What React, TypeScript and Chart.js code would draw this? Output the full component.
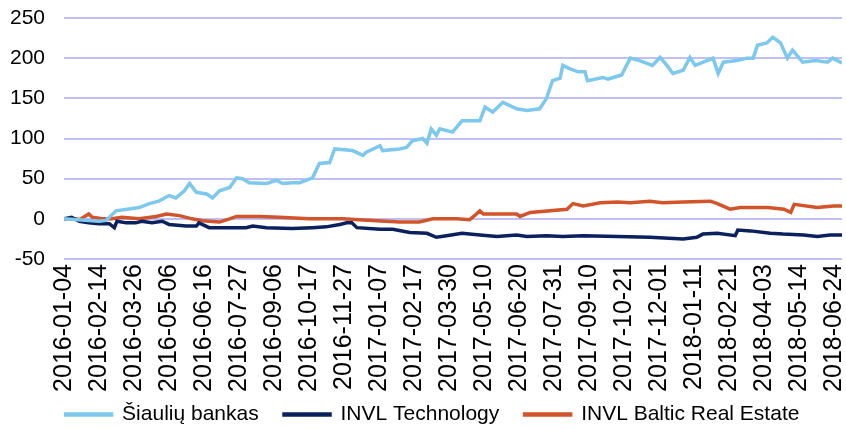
import { useEffect, useRef } from "react";
import { Chart, registerables } from "chart.js";

Chart.register(...registerables);

// x values are days since 2016-01-04
const startDate = Date.UTC(2016, 0, 4);
const tickStepDays = 41;
const lastDay = 911;

const sbDays = [0,41,49,61,88,100,111,123,131,141,147,155,167,174,182,194,202,209,217,237,249,256,267,276,291,299,311,317,338,350,354,370,373,393,401,408,420,425,430,436,440,455,466,487,493,502,514,530,542,557,565,572,581,584,592,602,610,613,631,637,653,663,674,689,698,706,713,725,733,739,753,760,766,772,788,800,807,812,823,830,839,847,853,865,880,894,900,911];
const sbValues = [0,-3,-2,10,14,19,22,29,26,35,44,33,31,26,35,39,51,50,45,44,48,44,45,45,51,69,70,87,85,79,83,91,85,87,89,97,100,94,112,104,112,108,122,122,139,133,145,137,135,137,150,172,175,191,187,183,183,172,176,174,179,200,197,191,201,191,181,185,201,191,197,200,181,195,197,200,200,216,219,226,219,200,210,195,197,195,200,194];

const techDays = [0,9,18,29,41,53,59,62,73,84,91,103,115,123,143,155,158,170,190,213,221,237,267,291,307,323,331,337,343,370,385,405,425,436,448,466,487,507,530,542,565,584,608,648,686,725,741,748,765,786,789,804,827,842,866,882,897,911];
const techValues = [0,2,-3,-5,-6,-6,-11,-3,-5,-5,-3,-5,-3,-7,-9,-9,-5,-11,-11,-11,-9,-11,-12,-11,-10,-7,-5,-5,-11,-13,-13,-17,-18,-23,-21,-18,-20,-22,-20,-22,-21,-22,-21,-22,-23,-25,-23,-19,-18,-21,-14,-15,-18,-19,-20,-22,-20,-20];

const breDays = [0,14,18,29,33,45,56,68,88,108,120,135,150,162,182,194,202,229,252,287,326,346,366,393,416,432,460,475,483,487,491,530,534,546,589,596,608,628,648,663,686,701,725,757,765,780,792,824,843,851,855,882,901,911];
const breValues = [0,0,-1,6,2,0,0,2,0,3,6,4,0,-2.5,-4,0,3,3,2,0,0,-1,-2.5,-4,-4,0,0,-1,6,10,6,6,3,8,12,19,16,20,21,20,22,20,21,22,19,12,14,14,12,8,18,14,16,16];

const seriesNames = ["Šiaulių bankas", "INVL Technology", "INVL Baltic Real Estate"];
const seriesColors = ["#7DC8EE", "#0B215E", "#D1542A"];

const yMin = -50;
const yMax = 250;
const yStep = 50;

const FONT = "'Liberation Sans', Arial, sans-serif";

function fmtDay(v: number): string {
  return new Date(startDate + v * 86400000).toISOString().slice(0, 10);
}

export default function App() {
  const ref = useRef<HTMLCanvasElement>(null);
  useEffect(() => {
    const toPts = (d: number[], v: number[]) => d.map((x, i) => ({ x, y: v[i] }));
    const sets = [toPts(sbDays, sbValues), toPts(techDays, techValues), toPts(breDays, breValues)];
    const defaultLabels = (Chart.defaults.plugins.legend.labels as any).generateLabels;
    const chart = new Chart(ref.current!, {
      type: "line",
      data: {
        datasets: sets.map((data, i) => ({
          label: seriesNames[i],
          data,
          borderColor: seriesColors[i],
          backgroundColor: seriesColors[i],
          borderWidth: 3.5,
          pointRadius: 0,
          tension: 0,
        })),
      },
      options: {
        animation: false,
        responsive: true,
        maintainAspectRatio: false,
        layout: { padding: { left: 11, right: -8, top: 18, bottom: -6 } },
        plugins: {
          legend: {
            position: "bottom",
            labels: {
              boxWidth: 46,
              boxHeight: 1,
              font: { family: FONT, size: 21 },
              color: "#000",
              padding: 2,
              generateLabels: (c: any) =>
                defaultLabels(c).map((l: any, i: number, arr: any[]) => ({
                  ...l,
                  text: i < arr.length - 1 ? l.text + "    " : l.text,
                })),
            },
          },
          tooltip: { enabled: false },
        },
        scales: {
          x: {
            type: "linear",
            min: 0,
            max: lastDay,
            grid: { display: false, drawTicks: false },
            border: { display: false },
            ticks: {
              stepSize: tickStepDays,
              includeBounds: false,
              autoSkip: false,
              minRotation: 90,
              maxRotation: 90,
              font: { family: FONT, size: 25 },
              color: "#000",
              padding: 5,
              callback: (v: any) => fmtDay(Number(v)),
            },
            afterFit: (s: any) => {
              s.paddingRight = 4;
              s.paddingLeft = 0;
              s.height = 143;
            },
          },
          y: {
            min: yMin,
            max: yMax,
            grid: { color: "#C0C0F8", lineWidth: 2, drawTicks: false },
            border: { display: false },
            ticks: {
              stepSize: yStep,
              font: { family: FONT, size: 21 },
              color: "#000",
              padding: 19,
            },
            afterFit: (s: any) => {
              s.width = 53;
              s.paddingTop = 0;
              s.paddingBottom = 0;
            },
          },
        },
      },
    });
    return () => chart.destroy();
  }, []);
  return (
    <div style={{ position: "fixed", left: 0, top: 0, width: 846, height: 429 }}>
      <canvas ref={ref} />
    </div>
  );
}
